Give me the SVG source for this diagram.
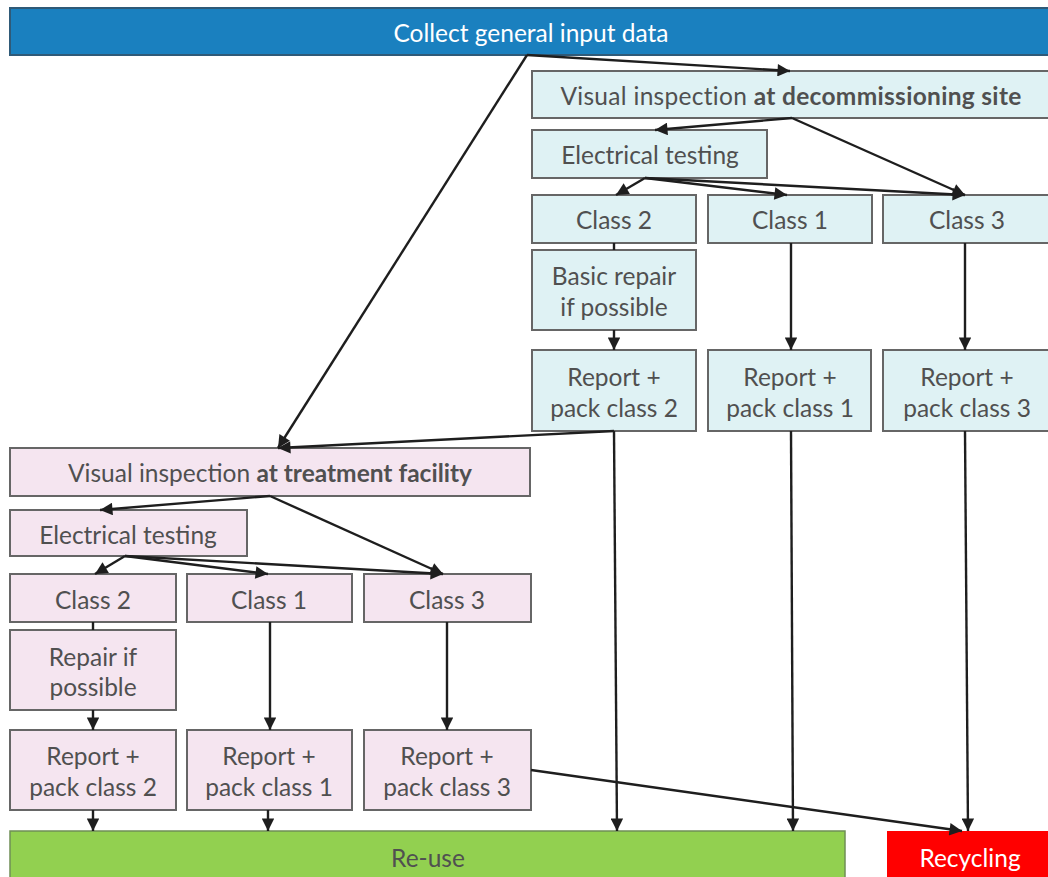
<svg xmlns="http://www.w3.org/2000/svg" width="1048" height="877" viewBox="0 0 1048 877">
  <style>
    text { font-family: Lato, "Open Sans", sans-serif; font-size: 24.5px; fill: #505050; text-anchor: middle; dominant-baseline: central; }
    .b { font-weight: bold; }
    .w { fill: #fff; }
    .cy { fill: #dff2f4; stroke: #666; stroke-width: 2; }
    .pk { fill: #f5e5f0; stroke: #666; stroke-width: 2; }
    .top { fill: #1a80bf; stroke: #2f5a78; stroke-width: 2; }
    .green { fill: #92d050; stroke: #6f8f55; stroke-width: 1.5; }
    .red { fill: #ff0000; }
    .con line { stroke: #1e1e1e; stroke-width: 2.4; marker-end: url(#ah); }
    .con line.plain { marker-end: none; }
  </style>
  <defs>
    <marker id="ah" viewBox="0 0 10 10" refX="10" refY="5" markerWidth="6" markerHeight="5.2" orient="auto" markerUnits="strokeWidth">
      <path d="M0,0 L10,5 L0,10 z" fill="#1e1e1e"/>
    </marker>
  </defs>
  <rect width="1048" height="877" fill="#fff"/>

  <g id="collect"><rect class="top" x="10" y="8" width="1046" height="47"/><text class="w" x="531" y="32">Collect general input data</text></g>

  <!-- decommissioning site branch -->
  <g id="vis-site"><rect class="cy" x="532" y="71" width="520" height="47"/><text x="791" y="95" letter-spacing="0.3"><tspan>Visual inspection </tspan><tspan class="b">at decommissioning site</tspan></text></g>
  <g id="et-site"><rect class="cy" x="532" y="130" width="235" height="48"/><text x="650" y="154">Electrical testing</text></g>
  <g id="c2-site"><rect class="cy" x="532" y="195" width="164" height="48"/><text x="614" y="219">Class 2</text></g>
  <g id="c1-site"><rect class="cy" x="708" y="195" width="164" height="48"/><text x="790" y="219">Class 1</text></g>
  <g id="c3-site"><rect class="cy" x="883" y="195" width="170" height="48"/><text x="967" y="219">Class 3</text></g>
  <g id="rep-site"><rect class="cy" x="532" y="250" width="164" height="80"/><text x="614" y="275">Basic repair</text><text x="614" y="306">if possible</text></g>
  <g id="r2-site"><rect class="cy" x="532" y="350" width="164" height="81"/><text x="614" y="376">Report +</text><text x="614" y="407">pack class 2</text></g>
  <g id="r1-site"><rect class="cy" x="708" y="350" width="163" height="81"/><text x="790" y="376">Report +</text><text x="790" y="407">pack class 1</text></g>
  <g id="r3-site"><rect class="cy" x="883" y="350" width="170" height="81"/><text x="967" y="376">Report +</text><text x="967" y="407">pack class 3</text></g>

  <!-- treatment facility branch -->
  <g id="vis-tf"><rect class="pk" x="10" y="448" width="520" height="48"/><text x="270" y="472"><tspan>Visual inspection </tspan><tspan class="b">at treatment facility</tspan></text></g>
  <g id="et-tf"><rect class="pk" x="10" y="510" width="237" height="46"/><text x="128" y="534">Electrical testing</text></g>
  <g id="c2-tf"><rect class="pk" x="10" y="574" width="166" height="48"/><text x="93" y="599">Class 2</text></g>
  <g id="c1-tf"><rect class="pk" x="187" y="574" width="165" height="48"/><text x="269" y="599">Class 1</text></g>
  <g id="c3-tf"><rect class="pk" x="364" y="574" width="167" height="48"/><text x="447" y="599">Class 3</text></g>
  <g id="rep-tf"><rect class="pk" x="10" y="630" width="166" height="80"/><text x="93" y="656">Repair if</text><text x="93" y="686">possible</text></g>
  <g id="r2-tf"><rect class="pk" x="10" y="730" width="166" height="80"/><text x="93" y="755">Report +</text><text x="93" y="786">pack class 2</text></g>
  <g id="r1-tf"><rect class="pk" x="187" y="730" width="165" height="80"/><text x="269" y="755">Report +</text><text x="269" y="786">pack class 1</text></g>
  <g id="r3-tf"><rect class="pk" x="364" y="730" width="167" height="80"/><text x="447" y="755">Report +</text><text x="447" y="786">pack class 3</text></g>

  <!-- outcomes -->
  <g id="reuse"><rect class="green" x="10" y="831" width="835" height="50"/><text x="428" y="857">Re-use</text></g>
  <g id="recycling"><rect class="red" x="887" y="831" width="165" height="50"/><text class="w" x="970" y="857">Recycling</text></g>

  <g id="connectors" class="con">
    <line x1="527" y1="55" x2="790" y2="71"/>
    <line x1="527" y1="55" x2="278" y2="448"/>
    <line x1="792" y1="118" x2="655" y2="130"/>
    <line x1="792" y1="118" x2="965" y2="195"/>
    <line x1="645" y1="178" x2="616" y2="195"/>
    <line x1="645" y1="178" x2="787" y2="195"/>
    <line x1="645" y1="178" x2="965" y2="195"/>
    <line class="plain" x1="614" y1="243" x2="614" y2="250"/>
    <line x1="614" y1="330" x2="614" y2="350"/>
    <line x1="791" y1="243" x2="791" y2="350"/>
    <line x1="965" y1="243" x2="965" y2="350"/>
    <line x1="614" y1="431" x2="278" y2="448"/>
    <line x1="614" y1="431" x2="617" y2="831"/>
    <line x1="791" y1="431" x2="793" y2="831"/>
    <line x1="965" y1="431" x2="968" y2="831"/>

    <line x1="270" y1="496" x2="100" y2="510"/>
    <line x1="270" y1="496" x2="443" y2="574"/>
    <line x1="125" y1="556" x2="95" y2="574"/>
    <line x1="125" y1="556" x2="268" y2="574"/>
    <line x1="125" y1="556" x2="443" y2="574"/>
    <line class="plain" x1="93" y1="622" x2="93" y2="630"/>
    <line x1="93" y1="710" x2="93" y2="730"/>
    <line x1="270" y1="622" x2="270" y2="730"/>
    <line x1="447" y1="622" x2="447" y2="730"/>
    <line x1="93" y1="810" x2="93" y2="831"/>
    <line x1="268" y1="810" x2="268" y2="831"/>
    <line x1="531" y1="770" x2="962" y2="831"/>
  </g>
</svg>
